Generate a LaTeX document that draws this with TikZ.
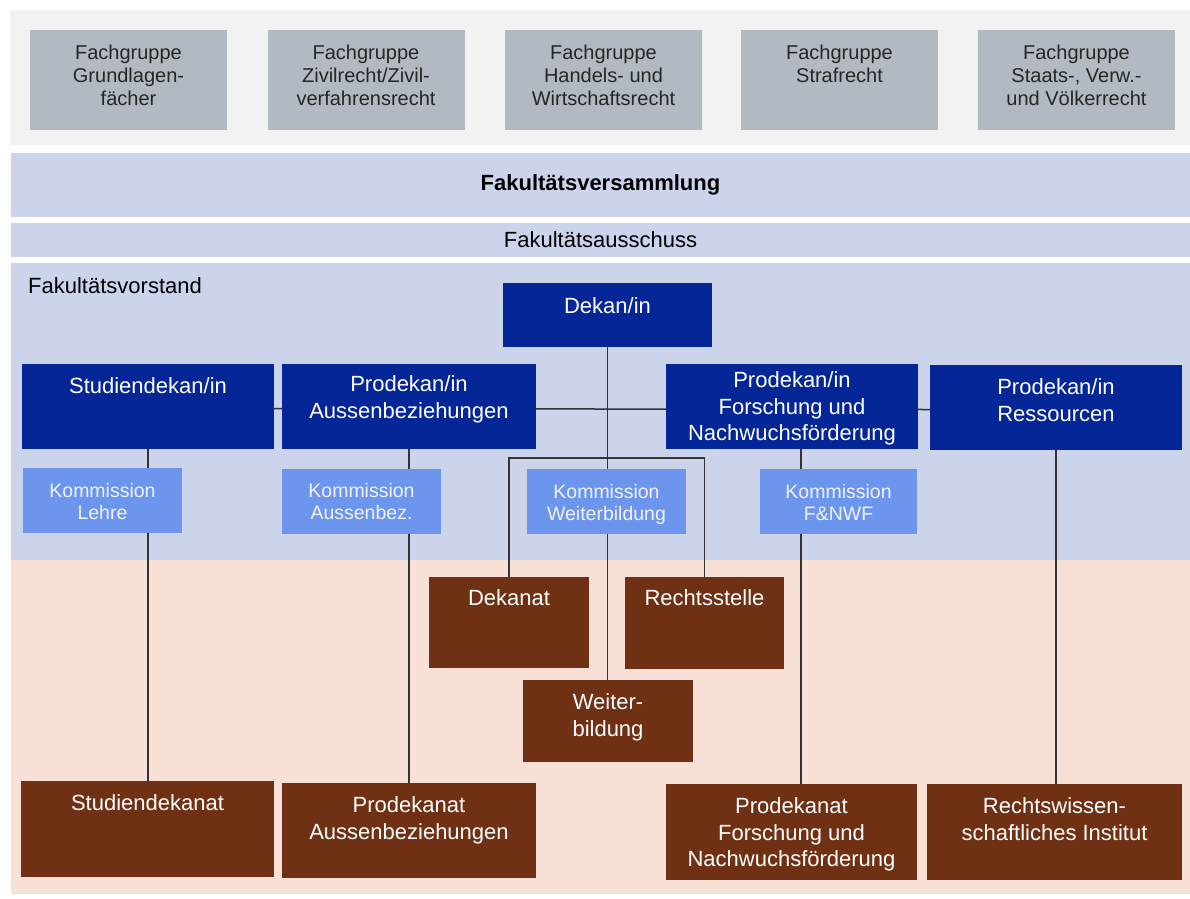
\documentclass[tikz,border=0pt]{standalone}
\usepackage{fontspec}
\setmainfont{Liberation Sans}
\usepackage{tikz}
\usetikzlibrary{positioning,calc}

\definecolor{topgray}{RGB}{242,242,242}
\definecolor{fggray}{RGB}{178,185,192}
\definecolor{bandblue}{RGB}{204,212,236}
\definecolor{leadblue}{RGB}{4,38,150}
\definecolor{komblue}{RGB}{108,149,238}
\definecolor{salmon}{RGB}{248,224,214}
\definecolor{unitbrown}{RGB}{112,48,20}

\pgfdeclarelayer{back}
\pgfdeclarelayer{wires}
\pgfsetlayers{back,wires,main}

\tikzset{
    band/.style={fill=bandblue, inner sep=0pt, minimum width=1179, font=\fontsize{22}{26}\selectfont},
    fgbox/.style={fill=fggray, inner sep=0pt, minimum width=197, minimum height=100},
    leadbox/.style={fill=leadblue, inner sep=0pt, minimum height=85},
    kombox/.style={fill=komblue, inner sep=0pt, minimum height=65},
    unitbox/.style={fill=unitbrown, inner sep=0pt},
    boxtext/.style={anchor=north, inner sep=0pt, align=center, text=white, font=\fontsize{22}{26.5}\selectfont},
    fgtext/.style={boxtext, text=black!85, font=\fontsize{20}{23}\selectfont},
    komtext/.style={boxtext, text=white!95!blue, font=\fontsize{19.5}{22}\selectfont},
    wire/.style={draw=black!80, line width=1.5pt}
}

\begin{document}
\begin{tikzpicture}[x=1pt, y=-1pt]
    \useasboundingbox (0,0) rectangle (1190,898);

    % bands
    \begin{pgfonlayer}{back}
        \fill[topgray] (10,10) rectangle (1190,145);
        \node[band, minimum height=64] (versammlung) at (600.5,185) {\bfseries Fakultätsversammlung};
        \node[band, minimum height=34] (ausschuss) at (600.5,240) {Fakultätsausschuss};
        \fill[bandblue] (11,263) rectangle (1190,560);
        \fill[salmon] (11,560) rectangle (1190,894);
        \node[anchor=base west, inner sep=0pt, font=\fontsize{22}{26}\selectfont] (vorstand) at (28,293) {Fakultätsvorstand};
    \end{pgfonlayer}

    % Fachgruppen
    \node[fgbox] (fg1) at (128.5,80) {};
    \node[fgbox] (fg2) at (366,80) {};
    \node[fgbox] (fg3) at (603.5,80) {};
    \node[fgbox] (fg4) at (839.5,80) {};
    \node[fgbox] (fg5) at (1076.5,80) {};
    \node[fgtext] (fg1-t) at ([yshift=-15]fg1.north) {Fachgruppe\\Grundlagen-\\fächer};
    \node[fgtext] (fg2-t) at ([yshift=-15]fg2.north) {Fachgruppe\\Zivilrecht/Zivil-\\verfahrensrecht};
    \node[fgtext] (fg3-t) at ([yshift=-15]fg3.north) {Fachgruppe\\Handels- und\\Wirtschaftsrecht};
    \node[fgtext] (fg4-t) at ([yshift=-15]fg4.north) {Fachgruppe\\Strafrecht};
    \node[fgtext] (fg5-t) at ([yshift=-15]fg5.north) {Fachgruppe\\Staats-, Verw.-\\und Völkerrecht};

    % Vorstand
    \node[leadbox, minimum width=209, minimum height=64] (dekan) at (607.5,315) {};
    \node[leadbox, minimum width=252] (stud) at (148,406.5) {};
    \node[leadbox, minimum width=254] (prodA) at (409,406.5) {};
    \node[leadbox, minimum width=252] (prodF) at (792,406.5) {};
    \node[leadbox, minimum width=252] (ress) at (1056,407.5) {};
    \node[boxtext] (dekan-t) at ([yshift=-15]dekan.north) {Dekan/in};
    \node[boxtext] (stud-t) at ([yshift=-14]stud.north) {Studiendekan/in};
    \node[boxtext] (prodA-t) at ([yshift=-12]prodA.north) {Prodekan/in\\Aussenbeziehungen};
    \node[boxtext] (prodF-t) at ([yshift=-8]prodF.north) {Prodekan/in\\Forschung und\\Nachwuchsförderung};
    \node[boxtext] (ress-t) at ([yshift=-14]ress.north) {Prodekan/in\\Ressourcen};

    % Kommissionen
    \node[kombox, minimum width=159] (kommL) at (102.5,500.5) {};
    \node[kombox, minimum width=159] (kommA) at (361.5,501) {};
    \node[kombox, minimum width=159] (kommW) at (606.5,501.5) {};
    \node[kombox, minimum width=157] (kommF) at (838.5,501.5) {};
    \node[komtext] (kommL-t) at ([yshift=-15]kommL.north) {Kommission\\Lehre};
    \node[komtext] (kommA-t) at ([yshift=-15]kommA.north) {Kommission\\Aussenbez.};
    \node[komtext] (kommW-t) at ([yshift=-15]kommW.north) {Kommission\\Weiterbildung};
    \node[komtext] (kommF-t) at ([yshift=-15]kommF.north) {Kommission\\F\&NWF};

    % Einheiten
    \node[unitbox, minimum width=160, minimum height=91] (dekanat) at (509,622.5) {};
    \node[unitbox, minimum width=159, minimum height=92] (rstelle) at (704.5,623) {};
    \node[unitbox, minimum width=170, minimum height=82] (weiter) at (608,721) {};
    \node[unitbox, minimum width=253, minimum height=96] (sdekanat) at (147.5,829) {};
    \node[unitbox, minimum width=254, minimum height=95] (pkA) at (409,830.5) {};
    \node[unitbox, minimum width=251, minimum height=96] (pkF) at (791.5,832) {};
    \node[unitbox, minimum width=255, minimum height=96] (rwi) at (1054.5,832) {};
    \node[boxtext] (dekanat-t) at ([yshift=-13]dekanat.north) {Dekanat};
    \node[boxtext] (rstelle-t) at ([yshift=-13]rstelle.north) {Rechtsstelle};
    \node[boxtext] (weiter-t) at ([yshift=-14]weiter.north) {Weiter-\\bildung};
    \node[boxtext] (sdekanat-t) at ([yshift=-14]sdekanat.north) {Studiendekanat};
    \node[boxtext] (pkA-t) at ([yshift=-14]pkA.north) {Prodekanat\\Aussenbeziehungen};
    \node[boxtext] (pkF-t) at ([yshift=-14]pkF.north) {Prodekanat\\Forschung und\\Nachwuchsförderung};
    \node[boxtext] (rwi-t) at ([yshift=-14]rwi.north) {Rechtswissen-\\schaftliches Institut};

    % Verbindungen
    \begin{pgfonlayer}{wires}
        \coordinate (split) at (607.5,458);
        \draw[wire] ([yshift=-2]stud.east) -- ([yshift=-2]ress.west);
        \draw[wire] (dekan.south) -- (dekan.south |- weiter.north);
        \draw[wire] (dekanat.north) |- (split) -| (rstelle.north);
        \draw[wire] (stud.south) -- (stud.south |- sdekanat.north);
        \draw[wire] (prodA.south) -- (prodA.south |- pkA.north);
        \draw[wire] ([xshift=9]prodF.south) -- ([xshift=9]prodF.south |- pkF.north);
        \draw[wire] (ress.south) -- (ress.south |- rwi.north);
    \end{pgfonlayer}
\end{tikzpicture}
\end{document}
